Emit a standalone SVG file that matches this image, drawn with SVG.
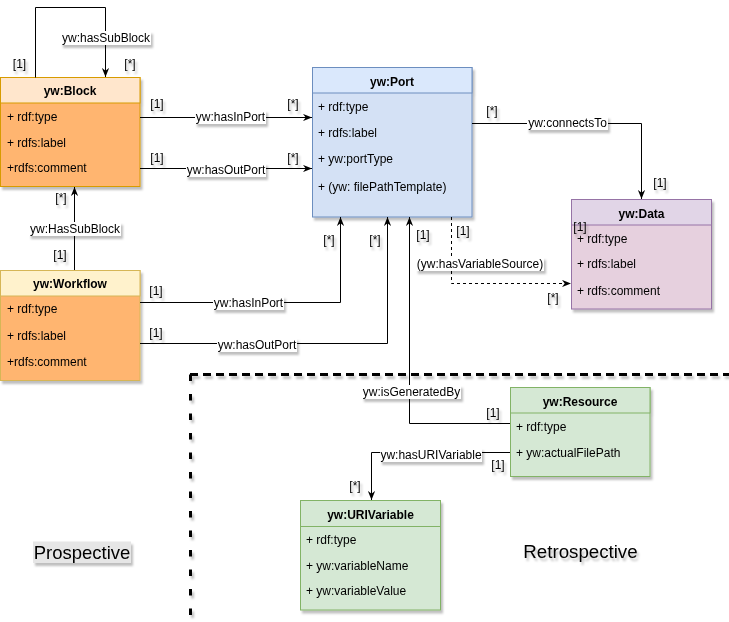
<svg xmlns="http://www.w3.org/2000/svg" width="729" height="622" viewBox="0 0 729 622">
  <style>
    text { font-family: "Liberation Sans", Arial, Helvetica, sans-serif; font-size: 12px; fill: #000; }
    .title { font-weight: bold; text-anchor: middle; }
    .mid { text-anchor: middle; }
    .edge { fill: none; stroke: #000; stroke-width: 1; }
    .dash { stroke-dasharray: 3 3; }
    .lblbg { fill: #fff; }
    .sep { fill: none; stroke: #000; stroke-width: 3; }
  </style>
  <defs>
    <filter id="shadow" x="-10%" y="-10%" width="130%" height="140%">
      <feDropShadow dx="2" dy="3" stdDeviation="1.3" flood-color="#000" flood-opacity="0.25"/>
    </filter>
    <!-- line shadow: fixed region, since straight lines have a zero-height box -->
    <filter id="lineShadow" filterUnits="userSpaceOnUse" x="0" y="0" width="729" height="622">
      <feDropShadow dx="2" dy="3" stdDeviation="1.3" flood-color="#000" flood-opacity="0.25"/>
    </filter>
    <marker id="arrow" viewBox="0 0 10 8" refX="10" refY="4" markerWidth="9" markerHeight="7.5" orient="auto" markerUnits="userSpaceOnUse">
      <path d="M0,0 L10,4 L0,8 L3,4 Z" fill="#000"/>
    </marker>
  </defs>

  <!-- separator between prospective and retrospective parts -->
  <g id="separator" filter="url(#lineShadow)">
    <path class="sep" d="M190 374.5 H729" stroke-dasharray="8 5"/>
    <path class="sep" d="M190.5 374.5 V622" stroke-dasharray="6.5 13"/>
  </g>

  <!-- class nodes -->
  <g id="block" filter="url(#shadow)">
    <rect x="0.5" y="77.5" width="139.5" height="109" fill="#FFB570" stroke="#D79B00"/>
    <rect x="0.5" y="77.5" width="139.5" height="25.5" fill="#FFE6CC" stroke="#D79B00"/>
    <text class="title" x="70" y="95">yw:Block</text>
    <text x="7" y="121">+ rdf:type</text>
    <text x="7" y="147">+ rdfs:label</text>
    <text x="7" y="172">+rdfs:comment</text>
  </g>

  <g id="workflow" filter="url(#shadow)">
    <rect x="0.5" y="270.5" width="139.5" height="110" fill="#FFB570" stroke="#D6B656"/>
    <rect x="0.5" y="270.5" width="139.5" height="25.5" fill="#FFF2CC" stroke="#D6B656"/>
    <text class="title" x="70" y="288">yw:Workflow</text>
    <text x="7" y="313">+ rdf:type</text>
    <text x="7" y="340">+ rdfs:label</text>
    <text x="7" y="366">+rdfs:comment</text>
  </g>

  <g id="port" filter="url(#shadow)">
    <rect x="312.5" y="67.5" width="159.5" height="149.5" fill="#D4E1F5" stroke="#6C8EBF"/>
    <rect x="312.5" y="67.5" width="159.5" height="25.5" fill="#DAE8FC" stroke="#6C8EBF"/>
    <text class="title" x="392" y="86">yw:Port</text>
    <text x="318" y="111">+ rdf:type</text>
    <text x="318" y="137">+ rdfs:label</text>
    <text x="318" y="163">+ yw:portType</text>
    <text x="318" y="191">+ (yw: filePathTemplate)</text>
  </g>

  <g id="data" filter="url(#shadow)">
    <rect x="571.5" y="199.5" width="140" height="109.5" fill="#E6D0DE" stroke="#9673A6"/>
    <rect x="571.5" y="199.5" width="140" height="25.5" fill="#E1D5E7" stroke="#9673A6"/>
    <text class="title" x="641.5" y="218">yw:Data</text>
    <text x="577" y="243">+ rdf:type</text>
    <text x="577" y="268">+ rdfs:label</text>
    <text x="577" y="295">+ rdfs:comment</text>
  </g>

  <g id="resource" filter="url(#shadow)">
    <rect x="510.5" y="387.5" width="139.5" height="89" fill="#D5E8D4" stroke="#82B366"/>
    <rect x="510.5" y="387.5" width="139.5" height="25.5" fill="#D5E8D4" stroke="#82B366"/>
    <text class="title" x="580" y="406">yw:Resource</text>
    <text x="516" y="431">+ rdf:type</text>
    <text x="516" y="457">+ yw:actualFilePath</text>
  </g>

  <g id="urivariable" filter="url(#shadow)">
    <rect x="300.5" y="500.5" width="140" height="109.5" fill="#D5E8D4" stroke="#82B366"/>
    <rect x="300.5" y="500.5" width="140" height="26" fill="#D5E8D4" stroke="#82B366"/>
    <text class="title" x="370.5" y="519">yw:URIVariable</text>
    <text x="306" y="544">+ rdf:type</text>
    <text x="306" y="570">+ yw:variableName</text>
    <text x="306" y="595">+ yw:variableValue</text>
  </g>

  <!-- connectors -->
  <g id="connectors">
    <path class="edge" d="M35.5 77.5 V7.5 H105.5 V77" marker-end="url(#arrow)"/>
    <path class="edge" d="M74.5 270 V187" marker-end="url(#arrow)"/>
    <path class="edge" d="M140 117.5 H312" marker-end="url(#arrow)"/>
    <path class="edge" d="M140 168.5 H312" marker-end="url(#arrow)"/>
    <path class="edge" d="M140 302.5 H340.5 V217" marker-end="url(#arrow)"/>
    <path class="edge" d="M140 343.5 H387.5 V217" marker-end="url(#arrow)"/>
    <path class="edge" d="M510 423.5 H409.5 V217" marker-end="url(#arrow)"/>
    <path class="edge dash" d="M451.5 217 V283.5 H571" marker-end="url(#arrow)"/>
    <path class="edge" d="M472 123.5 H641.5 V199" marker-end="url(#arrow)"/>
    <path class="edge" d="M510 452.5 H371.5 V500" marker-end="url(#arrow)"/>

    <!-- connector labels -->
    <g filter="url(#shadow)">
      <rect class="lblbg" x="61" y="31" width="90" height="14"/>
      <text class="mid" x="106" y="42">yw:hasSubBlock</text>
      <rect class="lblbg" x="29" y="222" width="92" height="14"/>
      <text class="mid" x="75" y="233">yw:HasSubBlock</text>
      <rect class="lblbg" x="195" y="110" width="71" height="14"/>
      <text class="mid" x="230.5" y="121">yw:hasInPort</text>
      <rect class="lblbg" x="186" y="163" width="80" height="14"/>
      <text class="mid" x="226" y="174">yw:hasOutPort</text>
      <rect class="lblbg" x="213" y="296" width="71" height="14"/>
      <text class="mid" x="248.5" y="307">yw:hasInPort</text>
      <rect class="lblbg" x="217" y="338" width="80" height="14"/>
      <text class="mid" x="257" y="349">yw:hasOutPort</text>
      <rect class="lblbg" x="362" y="385" width="99" height="14"/>
      <text class="mid" x="411.5" y="396">yw:isGeneratedBy</text>
      <rect class="lblbg" x="416" y="257" width="128" height="14"/>
      <text class="mid" x="480" y="268">(yw:hasVariableSource)</text>
      <rect class="lblbg" x="527" y="116" width="81" height="14"/>
      <text class="mid" x="567.5" y="127">yw:connectsTo</text>
      <rect class="lblbg" x="380" y="448" width="102" height="14"/>
      <text class="mid" x="431" y="459">yw:hasURIVariable</text>
    </g>

    <!-- multiplicities -->
    <g filter="url(#shadow)">
      <text class="mid" x="19.5" y="68">[1]</text>
      <text class="mid" x="130" y="68">[*]</text>
      <text class="mid" x="61" y="202">[*]</text>
      <text class="mid" x="60" y="259">[1]</text>
      <text class="mid" x="157" y="108">[1]</text>
      <text class="mid" x="293" y="108">[*]</text>
      <text class="mid" x="157" y="162">[1]</text>
      <text class="mid" x="293" y="162">[*]</text>
      <text class="mid" x="156" y="295">[1]</text>
      <text class="mid" x="329" y="244">[*]</text>
      <text class="mid" x="156" y="337">[1]</text>
      <text class="mid" x="375" y="244">[*]</text>
      <text class="mid" x="423" y="239">[1]</text>
      <text class="mid" x="493" y="417">[1]</text>
      <text class="mid" x="463" y="235">[1]</text>
      <text class="mid" x="553" y="302">[*]</text>
      <text class="mid" x="492" y="115">[*]</text>
      <text class="mid" x="660" y="187">[1]</text>
      <text class="mid" x="498" y="469">[1]</text>
      <text class="mid" x="355" y="490">[*]</text>
      <text class="mid" x="580" y="231">[1]</text>
    </g>
  </g>

  <!-- area captions -->
  <g id="prospective" filter="url(#shadow)">
    <rect x="33" y="541.5" width="98" height="21.5" fill="#E6E6E6"/>
    <text class="mid" x="82" y="558.5" style="font-size:18.5px">Prospective</text>
  </g>
  <g id="retrospective" filter="url(#shadow)">
    <text class="mid" x="580.5" y="557.5" style="font-size:18.7px">Retrospective</text>
  </g>
</svg>
